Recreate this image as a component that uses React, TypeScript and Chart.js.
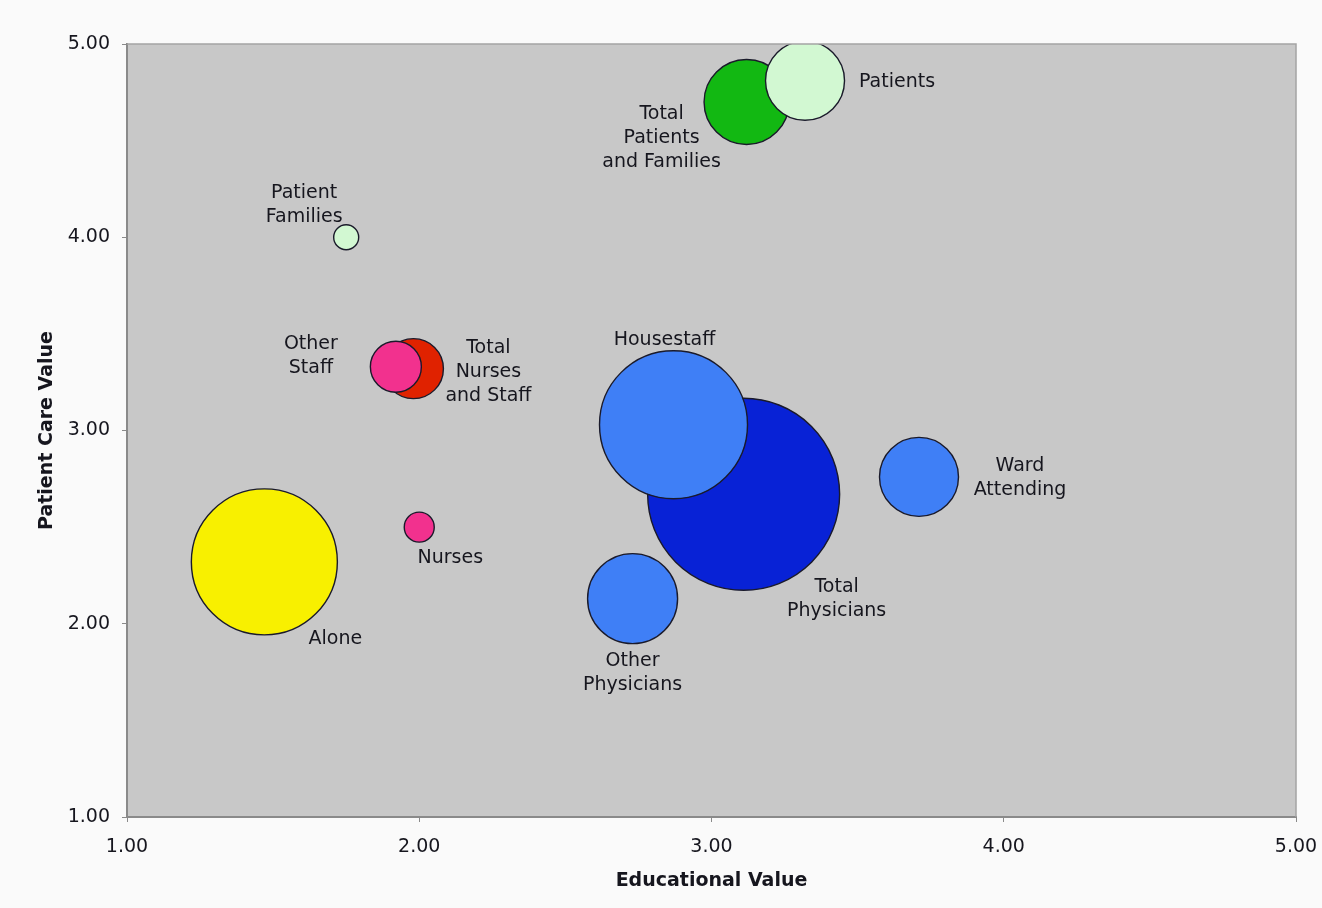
import React, { useEffect, useRef } from "react";
import { Chart, registerables } from "chart.js";

Chart.register(...registerables);

// Respondent groups, ordered so that each total is painted beneath its parts
const groups = [
  "Total Physicians",
  "Housestaff",
  "Ward Attending",
  "Other Physicians",
  "Total Patients and Families",
  "Patients",
  "Patient Families",
  "Total Nurses and Staff",
  "Other Staff",
  "Nurses",
  "Alone",
];
const educationalValue = [3.11, 2.87, 3.71, 2.73, 3.12, 3.32, 1.75, 1.98, 1.92, 2.0, 1.47];
const patientCareValue = [2.67, 3.03, 2.76, 2.13, 4.7, 4.81, 4.0, 3.32, 3.33, 2.5, 2.32];
const bubbleRadius = [96, 74, 39.5, 45, 42.5, 39.5, 12.5, 30, 25.5, 15, 73];
const labelLines = [
  ["Total", "Physicians"],
  ["Housestaff"],
  ["Ward", "Attending"],
  ["Other", "Physicians"],
  ["Total", "Patients", "and Families"],
  ["Patients"],
  ["Patient", "Families"],
  ["Total", "Nurses", "and Staff"],
  ["Other", "Staff"],
  ["Nurses"],
  ["Alone"],
];
const axisMin = 1;
const axisMax = 5;
const axisStep = 1;

// Styling
const FONT = '"DejaVu Sans", Verdana, sans-serif';
const TEXT_COLOR = "#16161e";
const AXIS_COLOR = "#8a8a8a";
const PAGE_BG = "#fafafa";
const PLOT_BG = "#c8c8c8";
const fillColors = [
  "#0822d6",
  "#3f7ff6",
  "#3f7ff6",
  "#3f7ff6",
  "#12b812",
  "#d2f8d2",
  "#d2f8d2",
  "#e02200",
  "#f2318e",
  "#f2318e",
  "#f8f000",
];
// Label placement relative to each bubble centre: [dx, dy of first line]
const labelOffsets: [number, number][] = [
  [93, 93],
  [-9, -85],
  [101, -11],
  [0, 62],
  [-85, 12],
  [92, 1],
  [-42, -44],
  [75, -21],
  [-85, -23],
  [31, 31],
  [71, 77],
];
const LINE_H = 24;

const backgroundPlugin = {
  id: "plotBackground",
  beforeDraw(chart: any) {
    const { ctx, chartArea, width, height } = chart;
    ctx.save();
    ctx.fillStyle = PAGE_BG;
    ctx.fillRect(0, 0, width, height);
    ctx.fillStyle = PLOT_BG;
    ctx.fillRect(chartArea.left, chartArea.top, chartArea.right - chartArea.left, chartArea.bottom - chartArea.top);
    ctx.restore();
  },
  afterDatasetsDraw(chart: any) {
    const { ctx, chartArea } = chart;
    ctx.save();
    ctx.strokeStyle = "#a4a4a4";
    ctx.lineWidth = 1.5;
    ctx.beginPath();
    ctx.moveTo(chartArea.left, chartArea.top);
    ctx.lineTo(chartArea.right, chartArea.top);
    ctx.lineTo(chartArea.right, chartArea.bottom);
    ctx.stroke();
    ctx.restore();
  },
};

const labelPlugin = {
  id: "bubbleLabels",
  afterDatasetsDraw(chart: any) {
    const meta = chart.getDatasetMeta(0);
    const ctx = chart.ctx;
    ctx.save();
    ctx.font = `19px ${FONT}`;
    ctx.fillStyle = TEXT_COLOR;
    ctx.textAlign = "center";
    ctx.textBaseline = "middle";
    meta.data.forEach((el: any, i: number) => {
      const [dx, dy] = labelOffsets[i];
      labelLines[i].forEach((line, j) => {
        ctx.fillText(line, el.x + dx, el.y + dy + j * LINE_H);
      });
    });
    ctx.restore();
  },
};

export default function App() {
  const canvasRef = useRef<HTMLCanvasElement>(null);

  useEffect(() => {
    if (!canvasRef.current) return;
    const tickFont = { family: FONT, size: 19 };
    const titleFont = { family: FONT, size: 19, weight: "bold" as const };
    const chart = new Chart(canvasRef.current, {
      type: "bubble",
      data: {
        labels: groups,
        datasets: [
          {
            label: "Value ratings",
            data: groups.map((_, i) => ({
              x: educationalValue[i],
              y: patientCareValue[i],
              r: bubbleRadius[i],
            })),
            backgroundColor: fillColors,
            borderColor: "#1a1a2a",
            borderWidth: 1.4,
            clip: 0,
          },
        ],
      },
      options: {
        animation: false,
        responsive: false,
        devicePixelRatio: 1,
        layout: { autoPadding: false, padding: { left: 0, right: 26, top: 44, bottom: 0 } },
        plugins: {
          legend: { display: false },
          tooltip: { enabled: false },
        },
        scales: {
          x: {
            type: "linear",
            min: axisMin,
            max: axisMax,
            afterFit: (s: any) => {
              s.height = 91;
              s.paddingLeft = 0;
              s.paddingRight = 0;
            },
            ticks: {
              stepSize: axisStep,
              font: tickFont,
              color: TEXT_COLOR,
              padding: 14,
              callback: (v: any) => Number(v).toFixed(2),
            },
            grid: { drawOnChartArea: false, drawTicks: true, tickLength: 5, color: AXIS_COLOR },
            border: { display: true, color: AXIS_COLOR, width: 2 },
            title: {
              display: true,
              text: "Educational Value",
              font: titleFont,
              color: TEXT_COLOR,
              padding: { top: 0, bottom: 15.5 },
            },
          },
          y: {
            type: "linear",
            min: axisMin,
            max: axisMax,
            afterFit: (s: any) => {
              s.width = 127;
              s.paddingTop = 0;
              s.paddingBottom = 0;
            },
            ticks: {
              stepSize: axisStep,
              font: tickFont,
              color: TEXT_COLOR,
              padding: 12,
              callback: (v: any) => Number(v).toFixed(2),
            },
            grid: { drawOnChartArea: false, drawTicks: true, tickLength: 5, color: AXIS_COLOR },
            border: { display: true, color: AXIS_COLOR, width: 2 },
            title: {
              display: true,
              text: "Patient Care Value",
              font: titleFont,
              color: TEXT_COLOR,
              padding: { top: 36, bottom: 0 },
            },
          },
        },
      },
      plugins: [backgroundPlugin, labelPlugin],
    });
    return () => chart.destroy();
  }, []);

  return (
    <div style={{ position: "absolute", left: 0, top: 0, width: 1322, height: 908 }}>
      <canvas ref={canvasRef} width={1322} height={908} style={{ display: "block" }} />
    </div>
  );
}
